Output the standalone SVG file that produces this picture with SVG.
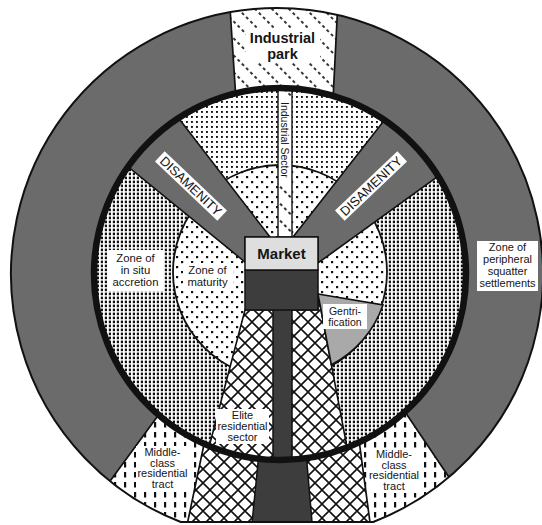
<svg xmlns="http://www.w3.org/2000/svg" width="542" height="525" viewBox="0 0 542 525">
<defs>
<style>
text{font-family:'Liberation Sans',Arial,sans-serif;fill:#151515;text-anchor:middle}
.b{font-weight:bold}
.ln{stroke:#111;stroke-width:1.7;fill:none}
.kn{fill:#fff}
.grey{fill:#6b6b6b}
.dark{fill:#3d3d3d;stroke:#111;stroke-width:1.5}
</style>
<pattern id="pDense" width="4" height="4" patternUnits="userSpaceOnUse"><rect x="0.8" y="0.6" width="2.2" height="2.6" fill="#111"/></pattern>
<pattern id="pMed" width="5" height="5" patternUnits="userSpaceOnUse"><rect x="1" y="1" width="1.9" height="1.9" fill="#111"/></pattern>
<pattern id="pSparse" width="10" height="10" patternUnits="userSpaceOnUse"><rect x="1" y="1" width="2.2" height="2.2" fill="#111"/><rect x="6" y="6" width="2.2" height="2.2" fill="#111"/></pattern>
<pattern id="pDash" width="10" height="10" patternUnits="userSpaceOnUse"><rect x="4" y="2" width="2.2" height="5.5" fill="#111"/></pattern>
<pattern id="pCross" width="14" height="14" patternUnits="userSpaceOnUse"><path d="M0,0 L14,14 M14,0 L0,14" stroke="#111" stroke-width="1.6" fill="none"/></pattern>
<pattern id="pHatch" width="12" height="12" patternUnits="userSpaceOnUse" patternTransform="rotate(-45)"><path d="M6,0 L6,12" stroke="#111" stroke-width="1.7" stroke-dasharray="3 3" fill="none"/></pattern>
<clipPath id="cOuter"><path d="M180.8,522 A266,266 0 1 1 373.2,522 Z"/></clipPath>
<clipPath id="cInner"><circle cx="280" cy="274" r="186"/></clipPath>
</defs>
<rect width="542" height="525" fill="#fff"/>

<g id="zone-peripheral-squatter">
<path class="grey" d="M180.8,522 A266,266 0 1 1 373.2,522 Z"/>
</g>

<g clip-path="url(#cOuter)">
<g id="industrial-park">
<polygon points="229,0 236,100 333,100 338,0" fill="#fff"/>
<polygon points="229,0 236,100 333,100 338,0" fill="url(#pHatch)"/>
<path class="ln" d="M229.5,0 L236,100 M338,0 L333,100" stroke-width="2"/>
</g>
<g id="middle-class-left">
<polygon points="170,400 105,488 100,540 186,540 207,430 215,400" fill="#fff"/>
<polygon points="170,400 105,488 100,540 186,540 207,430 215,400" fill="url(#pDash)"/>
</g>
<g id="middle-class-right">
<polygon points="357,425 371,530 480,530 463,498 393,394" fill="#fff"/>
<polygon points="357,425 371,530 480,530 463,498 393,394" fill="url(#pDash)"/>
</g>
<g id="elite-outer">
<polygon points="207,430 186,530 371,530 357,425" fill="#fff"/>
<polygon points="207,430 186,530 371,530 357,425" fill="url(#pCross)"/>
<polygon class="dark" points="260.3,440 305,440 312.7,530 251.3,530"/>
</g>
<g id="outer-boundaries">
<path class="ln" d="M168,402 L105,488 M207,430 L186,530 M357,425 L371,530 M393,394 L463,498" stroke-width="1.8"/>
</g>
</g>

<g clip-path="url(#cInner)">
<g id="zone-in-situ-accretion">
<circle cx="280" cy="274" r="186" fill="#fff"/>
<circle cx="280" cy="274" r="186" fill="url(#pDense)"/>
</g>
<g id="upper-sector">
<polygon points="144,73 270,237 293,237 419,76" fill="#fff"/>
<polygon points="144,73 270,237 293,237 419,76" fill="url(#pMed)"/>
</g>
<g id="zone-of-maturity">
<circle cx="280" cy="272" r="107" fill="#fff"/>
<circle cx="280" cy="272" r="107" fill="url(#pSparse)" stroke="#111" stroke-width="1.8"/>
</g>
<g id="disamenity-left">
<polygon class="grey" points="110,152 165,100.5 270,237 245,237 245,262" stroke="#111" stroke-width="1.6"/>
</g>
<g id="disamenity-right">
<polygon class="grey" points="398,102.8 293,237 318,237 318,263 462,159" stroke="#111" stroke-width="1.6"/>
</g>
<g id="industrial-sector">
<rect x="278" y="60" width="14" height="177" fill="#fff"/>
<rect x="278" y="60" width="14" height="177" fill="url(#pHatch)" stroke="#111" stroke-width="1.4"/>
<rect class="kn" x="279" y="100" width="12" height="82"/>
<text transform="translate(281.3,102) rotate(90)" font-size="10.5" style="text-anchor:start">Industrial Sector</text>
</g>
<g id="elite-residential-sector">
<polygon points="245,310 203,470 351.3,470 318,294 318,310" fill="#fff"/>
<polygon points="245,310 203,470 351.3,470 318,294 318,310" fill="url(#pCross)" stroke="#111" stroke-width="1.6"/>
</g>
<g id="gentrification">
<path d="M318,294 L383,305 A107,107 0 0 1 331.4,364.8 Z" fill="#a9a9a9" stroke="#111" stroke-width="1.6"/>
</g>
<g id="market">
<rect class="dark" x="273" y="305" width="19" height="170"/>
<rect class="dark" x="245" y="270" width="73" height="40"/>
<rect x="245" y="237" width="73" height="33" fill="#dedede" stroke="#111" stroke-width="1.5"/>
<text class="b" x="281.5" y="258.5" font-size="15">Market</text>
</g>
</g>

<g id="rings">
<circle cx="280" cy="274" r="186" fill="none" stroke="#111" stroke-width="6.5"/>
<path d="M180.8,522 A266,266 0 1 1 373.2,522 Z" fill="none" stroke="#111" stroke-width="2"/>
</g>

<g id="labels">
<g id="label-industrial-park">
<rect class="kn" x="246" y="29" width="74" height="33"/>
<text class="b" x="282.5" y="42.5" font-size="14.5">Industrial</text>
<text class="b" x="282.5" y="58.5" font-size="14.5">park</text>
</g>
<g id="label-disamenity-left" transform="translate(191,186) rotate(43.5)">
<rect class="kn" x="-43" y="-7" width="86" height="14"/>
<text y="4.6" font-size="13">DISAMENITY</text>
</g>
<g id="label-disamenity-right" transform="translate(371,186) rotate(-43.5)">
<rect class="kn" x="-43" y="-7" width="86" height="14"/>
<text y="4.6" font-size="13">DISAMENITY</text>
</g>
<g id="label-in-situ">
<rect class="kn" x="107" y="250" width="57" height="41"/>
<text x="135.5" y="262" font-size="11.3">Zone of</text>
<text x="135.5" y="274" font-size="11.3">in situ</text>
<text x="135.5" y="286" font-size="11.3">accretion</text>
</g>
<g id="label-maturity">
<rect class="kn" x="183" y="263" width="50" height="27"/>
<text x="207.5" y="274.3" font-size="11.3">Zone of</text>
<text x="207.5" y="286.2" font-size="11.3">maturity</text>
</g>
<g id="label-peripheral">
<rect class="kn" x="477" y="241" width="61" height="50"/>
<text x="507.5" y="251" font-size="11">Zone of</text>
<text x="507.5" y="263" font-size="11">peripheral</text>
<text x="507.5" y="275" font-size="11">squatter</text>
<text x="507.5" y="287" font-size="11">settlements</text>
</g>
<g id="label-gentrification">
<rect class="kn" x="323" y="304" width="44" height="25"/>
<text x="345" y="314.5" font-size="10.5">Gentri-</text>
<text x="345" y="325.5" font-size="10.5">fication</text>
</g>
<g id="label-elite">
<rect class="kn" x="216" y="409" width="53" height="35"/>
<text x="242.5" y="419" font-size="11">Elite</text>
<text x="242.5" y="430" font-size="11">residential</text>
<text x="242.5" y="441" font-size="11">sector</text>
</g>
<g id="label-middle-left">
<rect class="kn" x="136" y="446" width="54" height="45"/>
<text x="162.5" y="456" font-size="11">Middle-</text>
<text x="162.5" y="466.7" font-size="11">class</text>
<text x="162.5" y="477.4" font-size="11">residential</text>
<text x="162.5" y="488" font-size="11">tract</text>
</g>
<g id="label-middle-right">
<rect class="kn" x="368" y="448" width="53" height="45"/>
<text x="394" y="458" font-size="11">Middle-</text>
<text x="394" y="468.5" font-size="11">class</text>
<text x="394" y="479" font-size="11">residential</text>
<text x="394" y="489.5" font-size="11">tract</text>
</g>
</g>
</svg>
